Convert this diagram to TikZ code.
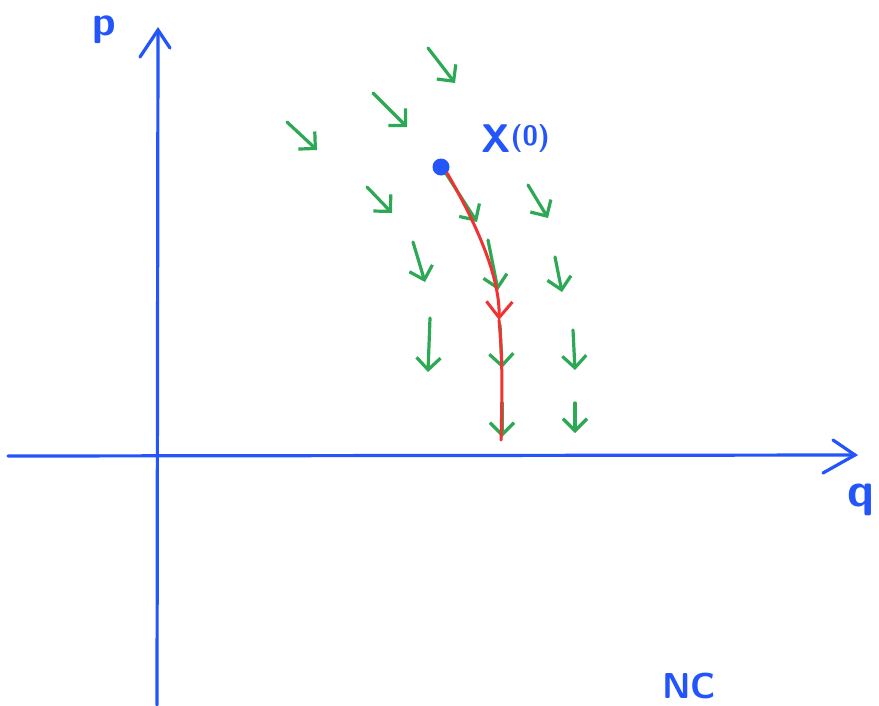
\documentclass[tikz,border=0pt]{standalone}
\usepackage{fontspec}
\setmainfont{Noto Sans}
\usetikzlibrary{arrows.meta}
\definecolor{penblue}{RGB}{35,85,250}
\definecolor{pengreen}{RGB}{45,168,85}
\definecolor{penred}{RGB}{240,50,50}
\tikzset{
  axis/.style={penblue, line width=3.2pt, line cap=round},
  field/.style={pengreen, line width=3.2pt, line cap=round, line join=round,
    -{Straight Barb[length=12pt,width=24pt,line width=3.2pt]}},
  flow/.style={penred, line width=3pt, line cap=round},
  hand/.style={penblue, inner sep=0pt, font=\sffamily\bfseries}
}
\begin{document}
\begin{tikzpicture}[x=1pt,y=-1pt]
\useasboundingbox[fill=white] (0,0) rectangle (879,705);
% axes
\coordinate (qs) at (8,456);
\coordinate (qe) at (855,455);
\coordinate (qa) at (833,440);
\coordinate (qb) at (823,473);
\coordinate (ps) at (157,705);
\coordinate (pe) at (158,30);
\coordinate (pa) at (140,57);
\coordinate (pb) at (170,48);
\draw[axis] (qs) -- (qe);
\draw[axis] (qa) -- (qe) -- (qb);
\draw[axis] (ps) -- (pe);
\draw[axis] (pa) .. controls (148,45) .. (pe) .. controls (162,36) .. (pb);
% labels
\node[hand, font=\sffamily\bfseries\fontsize{42}{42}\selectfont] (plab) at (104,30) {p};
\node[hand, font=\sffamily\bfseries\fontsize{48}{48}\selectfont, anchor=east] (qlab) at (875,500) {q};
\node[hand, font=\sffamily\bfseries\fontsize{40}{40}\selectfont, anchor=south west] (xlab) at (481,153) {X\raisebox{7pt}{\fontsize{28}{28}\selectfont(0)}};
\node[hand, font=\sffamily\bfseries\fontsize{36}{36}\selectfont, anchor=south west] (nc) at (662,699) {NC};
% green field arrows
\foreach \i/\a/\b in {
  1/{428,48}/{455,83},
  2/{373,93}/{407,127},
  3/{287,122}/{317,150},
  4/{367,187}/{392,213},
  5/{445,172}/{477,222},
  6/{528,185}/{548,218},
  7/{413,242}/{425,282},
  8/{488,240}/{498,290},
  9/{555,257}/{562,292},
  10/{430,318}/{428,372},
  11/{500,325}/{502,368},
  12/{573,330}/{575,370},
  13/{502,403}/{502,437},
  14/{575,403}/{575,433}}
{
  \coordinate (g\i s) at (\a);
  \coordinate (g\i e) at (\b);
  \draw[field] (g\i s) -- (g\i e);
}
% red trajectory
\node[circle, fill=penblue, minimum size=17pt, inner sep=0pt] (x0) at (441,167) {};
\coordinate (rm) at (499,320);
\coordinate (re) at (501,440);
\draw[flow, -{Straight Barb[length=16pt,width=26pt,line width=3pt]}] (x0.south east) .. controls (480,230) and (500,280) .. (rm);
\draw[flow] (rm) .. controls (503,360) and (502,400) .. (re);
\end{tikzpicture}
\end{document}
